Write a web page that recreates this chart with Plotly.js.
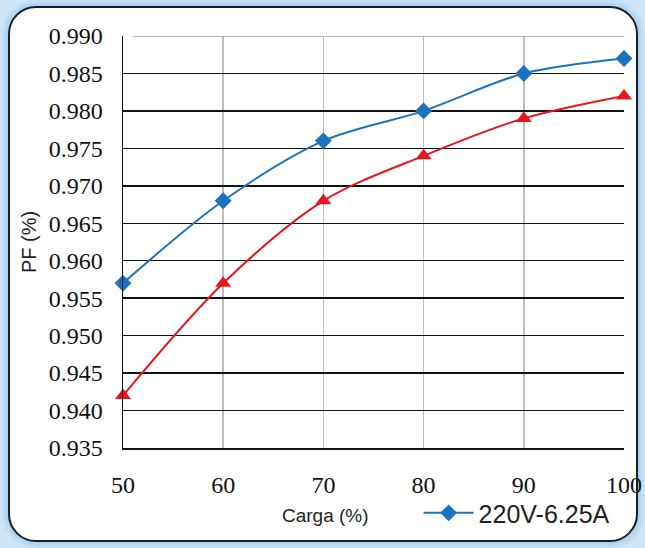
<!DOCTYPE html>
<html>
<head>
<meta charset="utf-8">
<script src="https://cdn.plot.ly/plotly-3.0.1.min.js"></script>
<style>
  html, body { margin: 0; padding: 0; width: 645px; height: 548px; overflow: hidden; background: #cfe6f8; }
  #frame {
    position: absolute; left: 8px; top: 6px; width: 630px; height: 536px;
    box-sizing: border-box; border: 2px solid #1e1e1e; border-radius: 28px;
    background: #ffffff; box-shadow: 0 0 6px 3px #9fcdf0;
  }
  #chart { position: absolute; left: 0; top: 0; width: 645px; height: 548px; }
</style>
</head>
<body>
<div id="frame"></div>
<div id="chart"></div>
<script>
const carga = [50, 60, 70, 80, 90, 100];
const pfBlue = [0.957, 0.968, 0.976, 0.980, 0.985, 0.987];
const pfRed = [0.942, 0.957, 0.968, 0.974, 0.979, 0.982];
const blueName = '220V-6.25A';
const redName = 'serie 2';
const yTicks = [0.935, 0.940, 0.945, 0.950, 0.955, 0.960, 0.965, 0.970, 0.975, 0.980, 0.985, 0.990];

const traces = [
  {
    x: carga, y: pfRed, name: redName, type: 'scatter', mode: 'lines+markers',
    line: {color: '#e8161c', width: 2, shape: 'spline', smoothing: 0.9},
    marker: {symbol: 'triangle-up', size: 14, color: '#e8161c'},
    showlegend: false, cliponaxis: false
  },
  {
    x: carga, y: pfBlue, name: blueName, type: 'scatter', mode: 'lines+markers',
    line: {color: '#1b73c0', width: 2, shape: 'spline', smoothing: 0.9},
    marker: {symbol: 'diamond', size: 13, color: '#1b73c0'},
    showlegend: true, cliponaxis: false
  }
];

const layout = {
  width: 645, height: 548,
  margin: {l: 123, r: 21, t: 36, b: 97},
  paper_bgcolor: 'rgba(0,0,0,0)',
  plot_bgcolor: '#ffffff',
  showlegend: true,
  legend: {
    x: 0.59, xanchor: 'left', y: -0.158, yanchor: 'middle',
    orientation: 'h', bgcolor: 'rgba(0,0,0,0)',
    font: {family: 'Liberation Sans, Arial, sans-serif', size: 25, color: '#222'},
    itemwidth: 50
  },
  xaxis: {
    range: [50, 100], tickvals: carga, ticktext: carga.map(String),
    showgrid: true, gridcolor: '#bdbdbd', gridwidth: 1.5,
    zeroline: false, showline: true, linecolor: '#111', linewidth: 1.5,
    ticks: 'outside', ticklen: 15, tickcolor: 'rgba(0,0,0,0)',
    tickfont: {family: 'Liberation Serif, Times New Roman, serif', size: 24, color: '#111'}
  },
  yaxis: {
    range: [0.935, 0.990], tickvals: yTicks, ticktext: yTicks.map(v => v.toFixed(3)),
    showgrid: true, gridcolor: '#111', gridwidth: 1.5,
    zeroline: false, showline: true, linecolor: '#111', linewidth: 1.5,
    ticks: 'outside', ticklen: 14, tickcolor: 'rgba(0,0,0,0)',
    tickfont: {family: 'Liberation Serif, Times New Roman, serif', size: 24, color: '#111'},
    title: {text: 'PF (%)', standoff: 6, font: {family: 'Liberation Sans, Arial, sans-serif', size: 20, color: '#222'}}
  },
  shapes: [
    {type: 'line', xref: 'paper', yref: 'y', x0: 0.02, x1: 1, y0: 0.990, y1: 0.990,
     line: {color: '#9a9a9a', width: 1.5}, layer: 'above'}
  ],
  annotations: [
    {text: 'Carga (%)', xref: 'paper', yref: 'paper', x: 0.405, y: -0.164,
     xanchor: 'center', yanchor: 'middle', showarrow: false,
     font: {family: 'Liberation Sans, Arial, sans-serif', size: 19, color: '#222'}}
  ]
};

Plotly.newPlot('chart', traces, layout, {displayModeBar: false, staticPlot: true});
</script>
</body>
</html>
